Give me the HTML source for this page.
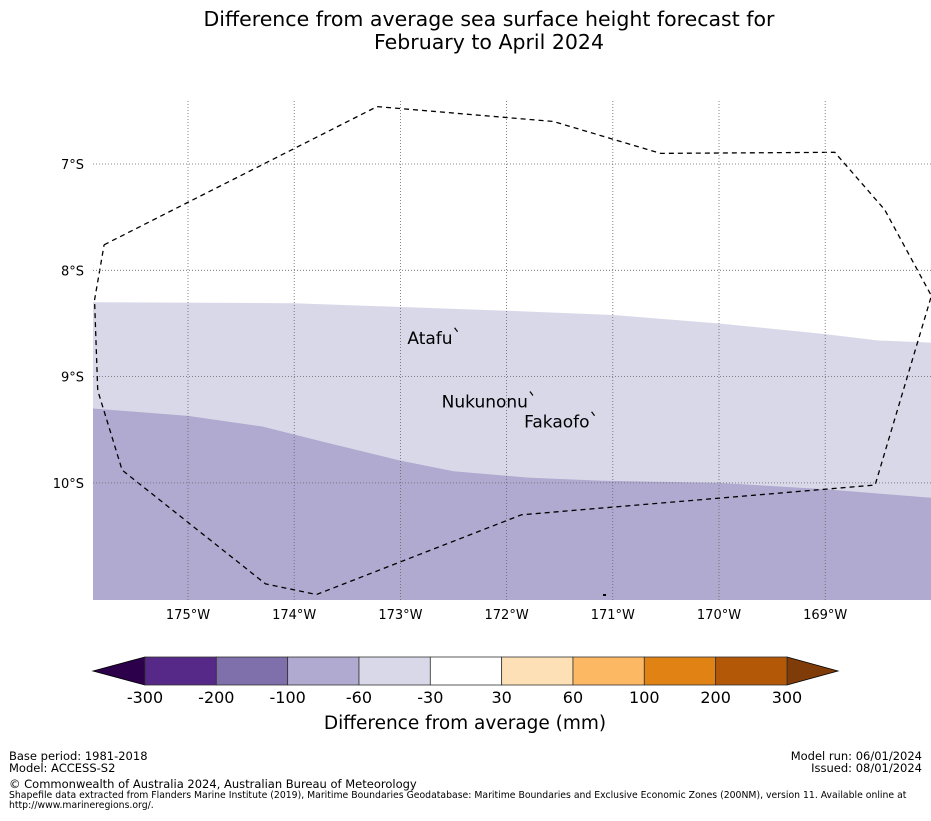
<!DOCTYPE html>
<html><head><meta charset="utf-8"><style>
body{margin:0;background:#fff;font-family:"Liberation Sans","DejaVu Sans",sans-serif}
svg text{font-family:"DejaVu Sans","Liberation Sans",sans-serif}
</style></head><body>
<svg id="c" width="931" height="816" xmlns="http://www.w3.org/2000/svg">
<rect width="931" height="816" fill="#fff"/>
<text x="489" y="26" font-size="20.5" text-anchor="middle">Difference from average sea surface height forecast for</text>
<text x="489" y="49" font-size="20.5" text-anchor="middle">February to April 2024</text>
<g id="map"></g>
<g id="cb"></g>
<text x="465" y="729" font-size="18.5" text-anchor="middle">Difference from average (mm)</text>
<g font-size="11.5" font-family="Liberation Sans,sans-serif">
<text x="9" y="760">Base period: 1981-2018</text>
<text x="9" y="772">Model: ACCESS-S2</text>
<text x="922" y="760" text-anchor="end">Model run: 06/01/2024</text>
<text x="922" y="772" text-anchor="end">Issued: 08/01/2024</text>
<text x="9" y="788">© Commonwealth of Australia 2024, Australian Bureau of Meteorology</text>
</g>
<text x="9" y="798" font-size="9.3" font-family="Liberation Sans,sans-serif">Shapefile data extracted from Flanders Marine Institute (2019), Maritime Boundaries Geodatabase: Maritime Boundaries and Exclusive Economic Zones (200NM), version 11. Available online at</text>
<text x="9" y="808" font-size="9.3" font-family="Liberation Sans,sans-serif">http://www.marineregions.org/.</text>
</svg>
<script>
const lonTicks=[175,174,173,172,171,170,169];
const latTicks=[7,8,9,10];
const eezLon=[175.79,173.22,171.56,170.55,168.91,168.44,168.00,168.53,171.86,173.79,174.27,175.62,175.85,175.88,175.79];
const eezLat=[7.76,6.46,6.60,6.90,6.89,7.43,8.24,10.02,10.30,11.05,10.95,9.88,9.13,8.28,7.76];
const band60Lon=[175.9,174.0,172.0,171.0,170.0,169.0,168.5,168.0];
const band60Lat=[8.30,8.31,8.38,8.42,8.50,8.60,8.66,8.68];
const band100Lon=[175.9,175.0,174.3,173.7,173.0,172.5,171.8,171.1,170.0,169.0,168.0];
const band100Lat=[9.30,9.37,9.47,9.62,9.79,9.89,9.95,9.98,10.00,10.06,10.14];
const islands=["Atafu","Nukunonu","Fakaofo"];
const islandLon=[172.49,171.78,171.20];
const islandLat=[8.55,9.15,9.34];
const cbLabels=["-300","-200","-100","-60","-30","30","60","100","200","300"];
const cbColors=["#562888","#7f6faa","#b0a9d0","#d8d8e9","#ffffff","#fee0b6","#fdb863","#e08214","#b35806"];
const X0=93,X1=931,Y0=101,Y1=600;
const x=lon=>188+(175-lon)*106.2;
const y=lat=>164+(lat-7)*106.3;
const NS="http://www.w3.org/2000/svg";
function mk(t,a,p){const e=document.createElementNS(NS,t);for(const k in a)e.setAttribute(k,a[k]);p.appendChild(e);return e;}
const map=document.getElementById('map');
const clip=mk('clipPath',{id:'mc'},map);mk('rect',{x:X0,y:Y0-10,width:X1-X0,height:Y1-Y0+10},clip);
const g=mk('g',{'clip-path':'url(#mc)'},map);
let d1="M"+band60Lon.map((l,i)=>x(l)+","+y(band60Lat[i])).join(" L")+` L${X1},${Y1} L${X0},${Y1}Z`;
const p1=mk('path',{d:d1,fill:'#d8d8e9'},g);


let d2="M"+band100Lon.map((l,i)=>x(l)+","+y(band100Lat[i])).join(" L")+` L${X1},${Y1} L${X0},${Y1}Z`;
const p2=mk('path',{d:d2,fill:'#b0a9d0'},g);


lonTicks.forEach(l=>{const ln=mk('line',{x1:x(l),x2:x(l),y1:Y0,y2:Y1,stroke:'#666','stroke-width':0.8,'stroke-dasharray':'1,2'},map);

const t=mk('text',{x:x(l),y:619,'font-size':13,'text-anchor':'middle'},map);t.textContent=l+"°W";
});
latTicks.forEach(l=>{const ln=mk('line',{x1:X0,x2:X1,y1:y(l),y2:y(l),stroke:'#666','stroke-width':0.8,'stroke-dasharray':'1,2'},map);

const t=mk('text',{x:84,y:y(l)+5,'font-size':13,'text-anchor':'end'},map);t.textContent=l+"°S";
});
const eez=mk('polyline',{points:eezLon.map((l,i)=>x(l)+","+y(eezLat[i])).join(" "),fill:'none',stroke:'#000','stroke-width':1.3,'stroke-dasharray':'5,4'},g);

islands.forEach((n,i)=>{const t=mk('text',{x:x(islandLon[i])-2,y:y(islandLat[i])+15,'font-size':17,'text-anchor':'end'},map);t.textContent=n;

const m=mk('line',{x1:x(islandLon[i]),y1:y(islandLat[i])-1,x2:x(islandLon[i])+3,y2:y(islandLat[i])+3,stroke:'#000','stroke-width':1.2},map);
});
const cb=document.getElementById('cb');
const CX0=145,CW=71.33,CY=657,CH=28;
const la=mk('polygon',{points:`93,671 ${CX0},${CY} ${CX0},${CY+CH}`,fill:'#2d004b',stroke:'#000','stroke-width':0.8},cb);

const ex=CX0+CW*cbColors.length;
const ra=mk('polygon',{points:`${ex},${CY} 838,671 ${ex},${CY+CH}`,fill:'#7f3b08',stroke:'#000','stroke-width':0.8},cb);

cbColors.forEach((c,i)=>{const r=mk('rect',{x:CX0+i*CW,y:CY,width:CW,height:CH,fill:c,stroke:'#333','stroke-width':0.8},cb);
});
cbLabels.forEach((s,i)=>{const t=mk('text',{x:CX0+i*CW,y:703,'font-size':16,'text-anchor':'middle'},cb);t.textContent=s;
});
const dot=mk('rect',{x:603,y:594,width:3,height:2,fill:'#000'},map);

</script>
</body></html>
